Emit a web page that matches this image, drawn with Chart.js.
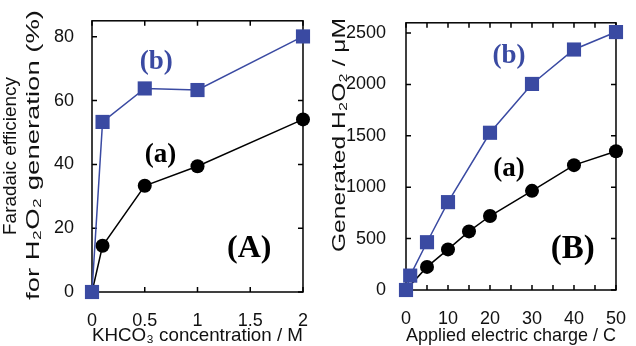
<!DOCTYPE html>
<html>
<head>
<meta charset="utf-8">
<script src="https://cdn.jsdelivr.net/npm/chart.js@4/dist/chart.umd.min.js"></script>
<style>
  html, body { margin: 0; padding: 0; background: #fff; }
  #wrap { position: relative; width: 636px; height: 346px; }
  canvas { position: absolute; top: 0; }
</style>
</head>
<body>
<div id="wrap">
  <canvas id="left" width="318" height="346" style="left:0"></canvas>
  <canvas id="right" width="318" height="346" style="left:318px"></canvas>
</div>
<script>
// panel A: faradaic efficiency vs KHCO3 concentration
const concM = [0, 0.1, 0.5, 1, 2];
const effA = [0, 14.5, 33.3, 39.4, 54.1];
const effB = [0, 53.3, 63.8, 63.3, 80.1];
const concTicks = [0, 0.5, 1, 1.5, 2];
const effTicks = [0, 20, 40, 60, 80];

// panel B: generated H2O2 vs applied charge
const chargeA = [0, 5, 10, 15, 20, 30, 40, 50];
const h2o2A = [0, 225, 395, 570, 720, 965, 1215, 1350];
const chargeB = [0, 1, 5, 10, 20, 30, 40, 50];
const h2o2B = [0, 140, 465, 855, 1530, 2005, 2340, 2510];
const chargeTicks = [0, 5, 10, 15, 20, 25, 30, 35, 40, 45, 50];
const h2o2Ticks = [0, 500, 1000, 1500, 2000, 2500];

const BLUE = '#3a4aa2';
const INK = '#111';
const SANS = '"Liberation Sans", Arial, sans-serif';
Chart.defaults.font.family = SANS;
Chart.defaults.color = INK;

const pts = (xs, ys) => xs.map((x, i) => ({ x: x, y: ys[i] }));
const fixTicks = list => s => { s.ticks = list.map(v => ({ value: v })); };

// box frame, inward ticks on all sides, (a)/(b)/(A) labels, rotated y titles
const frame = {
  id: 'frame',
  beforeDatasetsDraw(chart, args, opts) {
    const { ctx, chartArea: a, scales: { x, y } } = chart;
    ctx.save();
    ctx.strokeStyle = '#000';
    ctx.lineWidth = 1.5;
    ctx.strokeRect(a.left, a.top, a.right - a.left, a.bottom - a.top);
    ctx.beginPath();
    x.ticks.forEach(t => {
      const px = x.getPixelForValue(t.value);
      ctx.moveTo(px, a.bottom); ctx.lineTo(px, a.bottom - 5);
      ctx.moveTo(px, a.top); ctx.lineTo(px, a.top + 5);
    });
    y.ticks.forEach(t => {
      const py = y.getPixelForValue(t.value);
      ctx.moveTo(a.left, py); ctx.lineTo(a.left + 5, py);
      ctx.moveTo(a.right, py); ctx.lineTo(a.right - 5, py);
    });
    ctx.stroke();
    ctx.textAlign = 'center';
    ctx.textBaseline = 'middle';
    (opts.notes || []).forEach(n => {
      ctx.fillStyle = n.color;
      ctx.font = 'bold ' + n.size + 'px "Liberation Serif", "Times New Roman", serif';
      ctx.fillText(n.text, x.getPixelForValue(n.x), y.getPixelForValue(n.y));
    });
    ctx.fillStyle = INK;
    ctx.font = '19px ' + SANS;
    (opts.yTitle || []).forEach(t => {
      const w = ctx.measureText(t.text).width;
      ctx.save();
      ctx.translate(t.x, t.y);
      ctx.rotate(-Math.PI / 2);
      ctx.scale(t.len ? t.len / w : 1, 1);
      ctx.fillText(t.text, 0, 0);
      ctx.restore();
    });
    ctx.restore();
  }
};

function makeChart(id, cfg) {
  return new Chart(document.getElementById(id), {
    type: 'scatter',
    data: {
      datasets: [
        { data: cfg.b, borderColor: BLUE, backgroundColor: BLUE, pointStyle: 'rect',
          pointRadius: 10, borderWidth: 1.5, pointBorderWidth: 0, showLine: true },
        { data: cfg.a, borderColor: '#000', backgroundColor: '#000', pointStyle: 'circle',
          pointRadius: 7, borderWidth: 1.5, pointBorderWidth: 0, showLine: true }
      ]
    },
    options: {
      responsive: false,
      animation: false,
      devicePixelRatio: 1,
      clip: false,
      layout: { padding: { top: 14, right: cfg.padRight, left: 0, bottom: 0 } },
      plugins: {
        legend: { display: false }, tooltip: { enabled: false },
        frame: { notes: cfg.notes, yTitle: cfg.yTitle }
      },
      scales: {
        x: {
          type: 'linear', min: cfg.xMin, max: cfg.xMax,
          grid: { display: false }, border: { display: false },
          afterBuildTicks: fixTicks(cfg.xTicks),
          ticks: { autoSkip: false, maxRotation: 0, padding: 10,
                   font: { size: 18 }, callback: cfg.xLabel },
          title: { display: true, text: cfg.xTitle, font: { size: 19, lineHeight: 1.1 },
                   padding: { top: 0, bottom: 0 } },
          afterFit(s) { s.height = cfg.xHeight; }
        },
        y: {
          type: 'linear', min: cfg.yMin, max: cfg.yMax,
          grid: { display: false }, border: { display: false },
          afterBuildTicks: fixTicks(cfg.yTicks),
          ticks: { autoSkip: false, padding: cfg.yPad, font: { size: 18 }, callback: v => String(v) },
          afterFit(s) { s.width = cfg.yWidth; }
        }
      }
    },
    plugins: [frame]
  });
}

makeChart('left', {
  a: pts(concM, effA), b: pts(concM, effB),
  xMin: 0, xMax: 2, xTicks: concTicks,
  xLabel: v => String(v),
  yMin: 0, yMax: 85, yTicks: effTicks, yPad: 10,
  xTitle: 'KHCO₃ concentration / M',
  yTitle: [
    { text: 'Faradaic efficiency', x: 11, y: 156, len: 0 },
    { text: 'for H₂O₂ generation (%)', x: 34, y: 155, len: 290 }
  ],
  yWidth: 92, xHeight: 54, padRight: 10,
  notes: [
    { text: '(b)', x: 0.61, y: 72, color: BLUE, size: 27 },
    { text: '(a)', x: 0.65, y: 43, color: '#000', size: 27 },
    { text: '(A)', x: 1.49, y: 13.5, color: '#000', size: 32 }
  ]
});

makeChart('right', {
  a: pts(chargeA, h2o2A), b: pts(chargeB, h2o2B),
  xMin: 0, xMax: 50, xTicks: chargeTicks,
  xLabel: v => (v % 10 === 0 ? String(v) : ''),
  yMin: 0, yMax: 2600, yTicks: h2o2Ticks, yPad: 12,
  xTitle: 'Applied electric charge / C',
  yTitle: [
    { text: 'Generated H₂O₂ / μM', x: 22, y: 135, len: 234 }
  ],
  yWidth: 88, xHeight: 56, padRight: 12,
  notes: [
    { text: '(b)', x: 24.5, y: 2280, color: BLUE, size: 27 },
    { text: '(a)', x: 24.5, y: 1178, color: '#000', size: 27 },
    { text: '(B)', x: 39.7, y: 396, color: '#000', size: 33 }
  ]
});
</script>
</body>
</html>
